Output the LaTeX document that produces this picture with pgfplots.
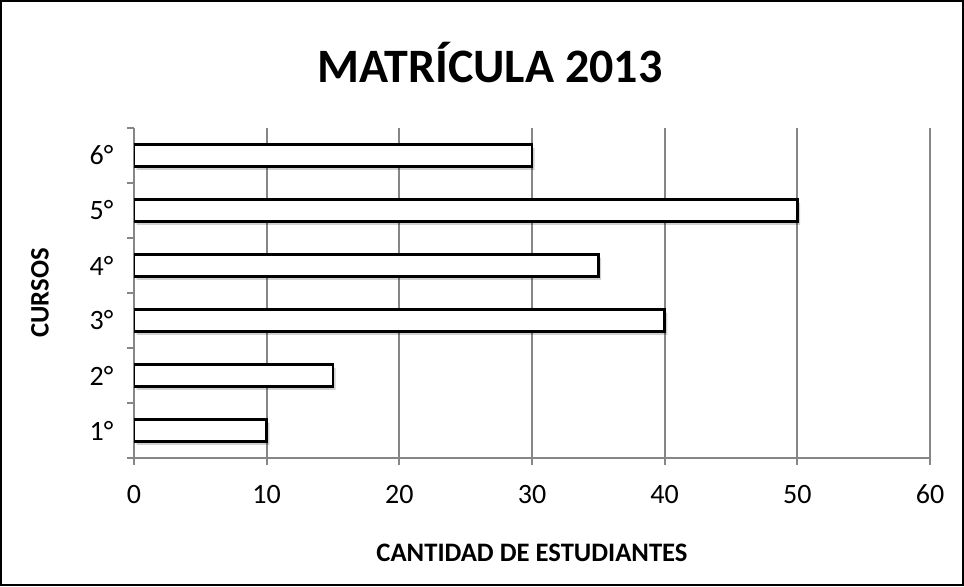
\documentclass[border=0pt]{standalone}
\usepackage{fontspec}
\setmainfont{Carlito}
\usepackage{pgfplots}
\pgfplotsset{compat=1.18}
\definecolor{gridgray}{RGB}{134,134,134}
\begin{document}
\begin{tikzpicture}
\useasboundingbox (0,0) rectangle (723pt,439.5pt);
\draw[line width=1.5pt] (0.75pt,0.75pt) rectangle (722.25pt,438.75pt);
\begin{axis}[
  at={(100.5pt,96pt)}, anchor=south west,
  scale only axis, width=597pt, height=247.5pt,
  xmin=0, xmax=60, ymin=0.5, ymax=6.5,
  axis x line*=bottom, axis y line*=left,
  axis line style={gridgray, line width=1.4pt},
  xtick={0,10,...,60},
  xmajorgrids, grid style={gridgray, line width=1.4pt},
  tick align=outside, major tick length=5pt,
  tick style={gridgray, line width=1.4pt},
  ytick={0.5,1.5,...,6.5},
  yticklabels={},
  extra y ticks={1,...,6},
  extra y tick labels={1°,2°,3°,4°,5°,6°},
  extra y tick style={major tick length=0pt, tick style={draw=none}},
  /pgf/number format/assume math mode=true,
  tick label style={font=\fontsize{21}{24}\selectfont},
  xticklabel style={anchor=base, yshift=-29pt},
  yticklabel style={anchor=east, xshift=-12pt},
  title={MATRÍCULA 2013},
  title style={font=\bfseries\fontsize{36}{40}\selectfont, at={(axis description cs:0.447,1.175)}, anchor=center},
  xlabel={CANTIDAD DE ESTUDIANTES},
  xlabel style={font=\bfseries\fontsize{20}{24}\selectfont, at={(axis description cs:0.5,-0.288)}, anchor=center},
  ylabel={CURSOS},
  ylabel style={font=\bfseries\fontsize{20}{24}\selectfont, at={(axis description cs:-0.118,0.5)}, anchor=center},
]
\addplot[xbar, bar width=0.4, bar shift=0pt, fill=black, fill opacity=0.18, draw=none, xshift=2pt, yshift=-2.5pt]
  coordinates {(10,1) (15,2) (40,3) (35,4) (50,5) (30,6)};
\addplot[xbar, bar width=0.4, bar shift=0pt, fill=white, draw=black, line width=2pt]
  coordinates {(10,1) (15,2) (40,3) (35,4) (50,5) (30,6)};
\end{axis}
\end{tikzpicture}
\end{document}
